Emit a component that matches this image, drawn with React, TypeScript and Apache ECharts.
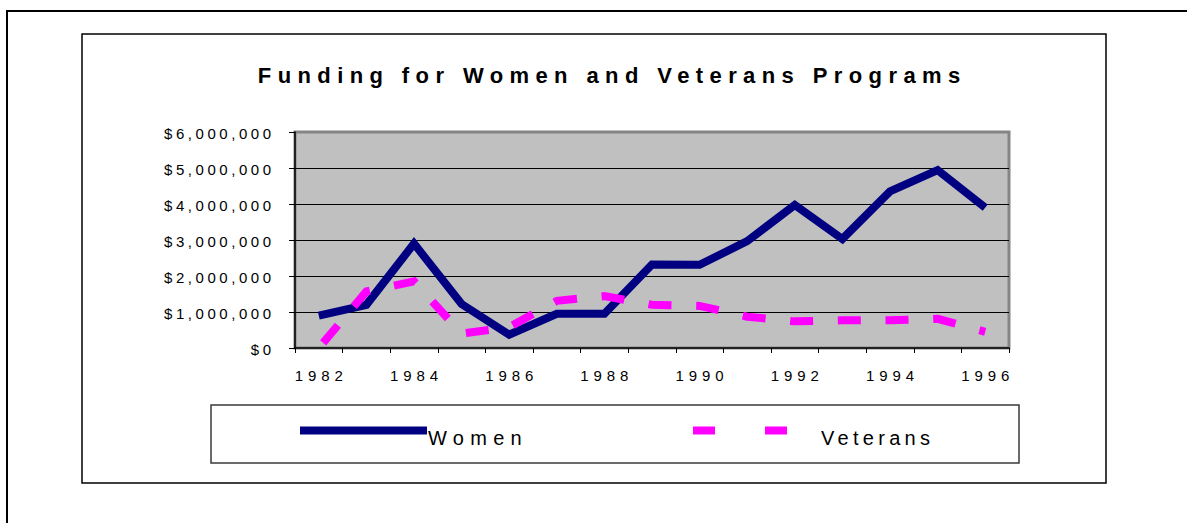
import React, { useEffect, useRef } from 'react';
import * as echarts from 'echarts';

const years = ['1982', '1983', '1984', '1985', '1986', '1987', '1988', '1989', '1990', '1991', '1992', '1993', '1994', '1995', '1996'];
const women = [900000, 1200000, 2900000, 1220000, 370000, 950000, 950000, 2320000, 2310000, 2970000, 3970000, 3030000, 4350000, 4940000, 3900000];
const veterans = [0, 1570000, 1850000, 400000, 580000, 1310000, 1440000, 1200000, 1170000, 870000, 740000, 770000, 770000, 810000, 450000];
const seriesNames = ['Women', 'Veterans'];
const titleText = 'Funding for Women and Veterans Programs';
const yMin = 0;
const yMax = 6000000;
const yStep = 1000000;

const FONT = '"Liberation Sans", Arial, Helvetica, sans-serif';

type Adj = { s: number; dx?: number; dy?: number };
const adjustFor = (t: string): Adj | null => {
  if (t === titleText) return { s: 6.4 };
  if (t.startsWith('$')) return { s: 3.55, dy: 1.5 };
  if (/^\d{4}$/.test(t)) return { s: 4.9 };
  if (t === 'Women') return { s: 6.3, dx: -4, dy: 7 };
  if (t === 'Veterans') return { s: 4.3, dy: 7 };
  return null;
};

export default function App() {
  const ref = useRef<HTMLDivElement | null>(null);

  useEffect(() => {
    const el = ref.current;
    if (!el) return;
    const chart = echarts.init(el, undefined, { renderer: 'svg' });

    const option: any = {
      animation: false,
      backgroundColor: '#ffffff',
      title: {
        text: titleText,
        left: 609,
        top: 64,
        textAlign: 'center',
        padding: 0,
        textStyle: { fontSize: 22, fontWeight: 'bold', fontFamily: FONT, color: '#000' },
      },
      grid: {
        left: 295,
        top: 132,
        width: 714,
        height: 216,
        show: true,
        backgroundColor: '#c0c0c0',
        borderColor: '#858585',
        borderWidth: 3,
        containLabel: false,
        outerBoundsMode: 'none',
      },
      legend: [
        {
          data: [seriesNames[0]],
          left: 300,
          top: 420.5,
          padding: 0,
          itemWidth: 127,
          itemHeight: 8,
          icon: 'rect',
          selectedMode: false,
          itemStyle: { borderWidth: 0 },
          textStyle: { fontSize: 20, fontFamily: FONT, color: '#000' },
        },
        {
          data: [seriesNames[1]],
          left: 693,
          top: 420.5,
          padding: 0,
          itemWidth: 94,
          itemHeight: 8,
          icon: 'path://M0 0H22V8H0Z M72 0H94V8H72Z',
          selectedMode: false,
          itemStyle: { borderWidth: 0 },
          textStyle: { fontSize: 20, fontFamily: FONT, color: '#000', padding: [0, 0, 0, 29] },
        },
      ],
      xAxis: {
        type: 'category',
        data: years,
        boundaryGap: true,
        axisLine: { show: true, lineStyle: { color: '#000', width: 1.5 } },
        axisTick: { show: true, interval: 0, length: 5, lineStyle: { color: '#000', width: 1 } },
        axisLabel: { interval: 1, margin: 20, fontSize: 15, fontFamily: FONT, color: '#000' },
        splitLine: { show: false },
      },
      yAxis: {
        type: 'value',
        min: yMin,
        max: yMax,
        interval: yStep,
        axisLine: { show: true, lineStyle: { color: '#000', width: 1.5 } },
        axisTick: { show: true, length: 6, lineStyle: { color: '#000', width: 1 } },
        axisLabel: {
          margin: 24,
          fontSize: 15,
          fontFamily: FONT,
          color: '#000',
          formatter: (v: number) => '$' + v.toLocaleString('en-US'),
        },
        splitLine: { show: true, showMaxLine: false, showMinLine: false, lineStyle: { color: '#000', width: 1 } },
      },
      graphic: [
        {
          type: 'rect',
          silent: true,
          shape: { x: 7, y: 11, width: 1400, height: 800 },
          style: { fill: 'none', stroke: '#000', lineWidth: 2 },
        },
        {
          type: 'rect',
          silent: true,
          shape: { x: 82, y: 34, width: 1024, height: 449 },
          style: { fill: 'none', stroke: '#000', lineWidth: 1.5 },
        },
        {
          type: 'rect',
          silent: true,
          shape: { x: 211, y: 405, width: 808, height: 58 },
          style: { fill: 'none', stroke: '#3a3a3a', lineWidth: 1.5 },
        },
      ],
      series: [
        {
          name: seriesNames[0],
          type: 'line',
          data: women,
          symbol: 'none',
          showSymbol: false,
          color: '#000080',
          lineStyle: { color: '#000080', width: 8, join: 'miter' },
          silent: true,
        },
        {
          name: seriesNames[1],
          type: 'line',
          data: veterans,
          symbol: 'none',
          showSymbol: false,
          color: '#ff00ff',
          lineStyle: { color: '#ff00ff', width: 8, type: [23, 24.7], dashOffset: 41.3, cap: 'butt', join: 'miter' },
          silent: true,
        },
      ],
    };

    const applySpacing = () => {
      const root = ref.current;
      if (!root) return;
      root.querySelectorAll('text').forEach((t) => {
        const a = adjustFor((t.textContent || '').trim());
        if (!a) return;
        t.setAttribute('letter-spacing', String(a.s));
        const anchor = t.getAttribute('text-anchor');
        let dx = a.dx || 0;
        if (anchor === 'middle') dx += a.s / 2;
        else if (anchor === 'end') dx += a.s;
        if (dx) t.setAttribute('dx', String(dx));
        if (a.dy) t.setAttribute('dy', String(a.dy));
      });
    };

    chart.on('finished', applySpacing);
    chart.setOption(option);
    applySpacing();
    const raf = requestAnimationFrame(applySpacing);
    const timer = setTimeout(applySpacing, 100);

    return () => {
      cancelAnimationFrame(raf);
      clearTimeout(timer);
      chart.dispose();
    };
  }, []);

  return (
    <div
      ref={ref}
      style={{ position: 'absolute', left: 0, top: 0, width: 1187, height: 523 }}
    />
  );
}
